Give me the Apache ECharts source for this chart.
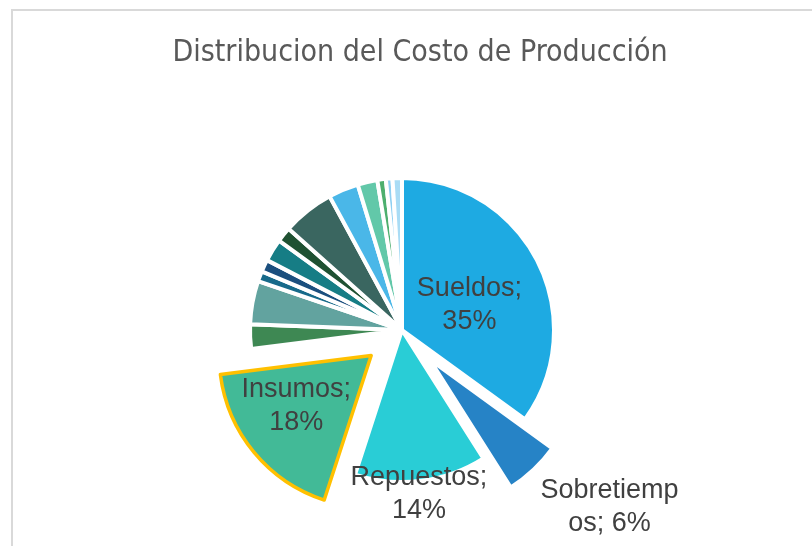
<!DOCTYPE html>
<html>
<head>
<meta charset="utf-8">
<script src="https://cdn.jsdelivr.net/npm/echarts@6/dist/echarts.min.js"></script>
<style>html,body{margin:0;padding:0;background:#fff}#c{width:812px;height:546px}</style>
</head>
<body>
<div id="c"></div>
<script>
const titleText = 'Distribucion del Costo de Producción';
const categories = ['Sueldos','Sobretiempos','Repuestos','Insumos','Otro 1','Otro 2','Otro 3','Otro 4','Otro 5','Otro 6','Otro 7','Otro 8','Otro 9','Otro 10','Otro 11','Otro 12'];
const values = [35, 6, 14, 18, 2.6, 4.6, 1.1, 1.3, 2.4, 1.6, 5.5, 3.2, 2.1, 0.9, 0.7, 1.0];
const colors = ['#1EAAE2','#2683C6','#29CDD6','#42BA97','#3E8853','#62A39F','#176A8A','#1B4F7E','#167D85','#1F5132','#3A6660','#4AB7E8','#62C8A9','#4DAF6E','#8FD0F2','#A9DCF5'];
const labeled = ['Sueldos','Sobretiempos','Repuestos','Insumos'];
const exploded = ['Sobretiempos','Insumos'];
const highlighted = ['Insumos'];
const labelShift = {Sueldos:[-3,11], Sobretiempos:[126,90], Repuestos:[7,86], Insumos:[-14,0]};

const data = categories.map((name, i) => {
  const style = {color: colors[i], borderColor: '#ffffff', borderWidth: 4};
  if (highlighted.includes(name)) { style.borderColor = '#FFC000'; style.borderWidth = 3.5; }
  return {
    name: name,
    value: values[i],
    selected: exploded.includes(name),
    itemStyle: style,
    select: {itemStyle: Object.assign({}, style)},
    label: {show: labeled.includes(name)}
  };
});

const chart = echarts.init(document.getElementById('c'), null, {renderer: 'canvas'});
chart.setOption({
  animation: false,
  graphic: [{
    type: 'rect', shape: {x: 12, y: 10, width: 900, height: 700},
    style: {fill: 'none', stroke: '#d9d9d9', lineWidth: 2}, silent: true
  }],
  title: {
    text: titleText, left: 415, top: 33, textAlign: 'center',
    textStyle: {fontFamily: "'DejaVu Sans Condensed',sans-serif", fontSize: 30, fontWeight: 'normal', color: '#595959'}
  },
  series: [{
    type: 'pie',
    center: [402, 330],
    radius: [0, 152],
    startAngle: 90,
    clockwise: true,
    selectedMode: 'multiple',
    selectedOffset: 40,
    percentPrecision: 0,
    avoidLabelOverlap: false,
    emphasis: {disabled: true},
    label: {
      position: 'inside',
      fontFamily: "'Liberation Sans',sans-serif",
      fontSize: 27,
      lineHeight: 33,
      color: '#404040',
      align: 'center',
      formatter: p => {
        let s = p.name + '; ' + p.percent + '%';
        if (p.name.length > 10) return s.slice(0, 10) + '\n' + s.slice(10);
        return p.name + ';\n' + p.percent + '%';
      }
    },
    labelLine: {show: false},
    labelLayout: p => {
      const sft = labelShift[categories[p.dataIndex]] || [0, 0];
      return {dx: sft[0], dy: sft[1]};
    },
    data: data
  }]
});
</script>
</body>
</html>
